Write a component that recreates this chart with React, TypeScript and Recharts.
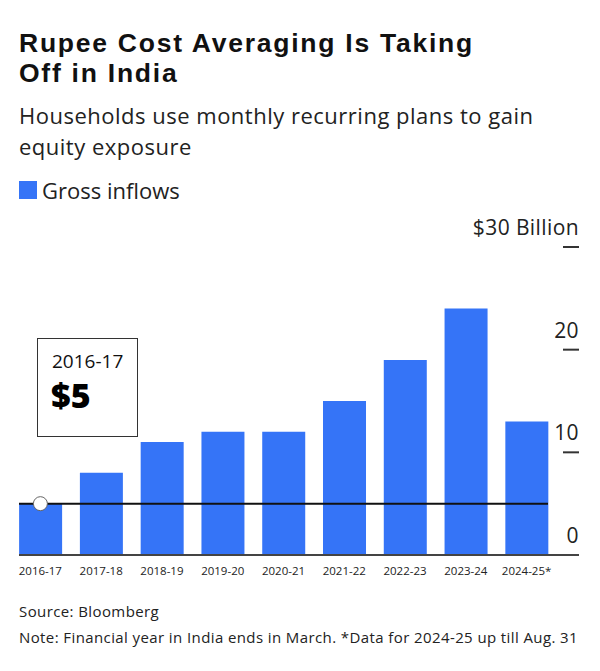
import { Bar, BarChart, XAxis, YAxis, ReferenceLine, ReferenceDot } from "recharts"

const years = ["2016-17", "2017-18", "2018-19", "2019-20", "2020-21", "2021-22", "2022-23", "2023-24", "2024-25*"]
const grossInflows = [5, 8, 11, 12, 12, 15, 19, 24, 13]
const yTicks = [0, 10, 20, 30]
const highlightYear = "2016-17"
const highlightValue = 5

const BLUE = "#3574f7"
const FONT = "'Open Sans', sans-serif"

const data = years.map((year, i) => ({ year, inflows: grossInflows[i] }))

function YTick(props: any) {
    const { x, y, payload } = props
    const label = payload.value === 30 ? "$30 Billion" : String(payload.value)
    const right = x + 22
    return (
        <g>
            {payload.value !== 0 && <line x1={right - 16} x2={right} y1={y} y2={y} stroke="#333" strokeWidth={2} />}
            <text x={right} y={y - 12} textAnchor="end" fontSize={21} letterSpacing={0.4} fill="#222" fontFamily={FONT}>
                {label}
            </text>
        </g>
    )
}

// reference line endpoints come in reversed with a right-hand axis, so sort them
const hLine = (padLeft: number, padRight: number, color: string) => (p: any) => {
    const lo = Math.min(p.x1, p.x2)
    const hi = Math.max(p.x1, p.x2)
    return <line x1={lo + padLeft} x2={hi + padRight} y1={p.y1} y2={p.y2} stroke={color} strokeWidth={2} />
}

export default function App() {
    return (
        <div style={{ position: "absolute", left: 0, top: 0, width: 600, height: 671, background: "#fff", fontFamily: FONT, color: "#111" }}>
            <div style={{ position: "absolute", left: 19, top: 29, fontFamily: "'Liberation Sans', Arial, sans-serif", fontSize: 26.5, fontWeight: 700, lineHeight: "29.7px", letterSpacing: 1.75 }}>
                <div style={{ height: 29.7 }}>Rupee Cost Averaging Is Taking</div>
                <div style={{ height: 29.7 }}>Off in India</div>
            </div>
            <div style={{ position: "absolute", left: 19, top: 100, fontSize: 22, lineHeight: "31px", color: "#222", letterSpacing: 0.5 }}>
                Households use monthly recurring plans to gain
                <br />
                equity exposure
            </div>
            <div style={{ position: "absolute", left: 19, top: 175, display: "flex", alignItems: "center", fontSize: 22, color: "#222" }}>
                <span style={{ display: "inline-block", width: 18, height: 18, background: BLUE, marginRight: 5 }} />
                Gross inflows
            </div>

            <div style={{ position: "absolute", left: 0, top: 210 }}>
                <BarChart width={600} height={380} data={data} margin={{ top: 37, right: 0, bottom: 0, left: 10 }} barCategoryGap="15%">
                    <XAxis
                        dataKey="year"
                        axisLine={false}
                        tickLine={false}
                        tickSize={0}
                        tickMargin={12}
                        height={35}
                        interval={0}
                        tick={{ fontSize: 11.5, fill: "#222", fontFamily: FONT }}
                    />
                    <YAxis
                        orientation="right"
                        domain={[0, 30]}
                        ticks={yTicks}
                        axisLine={false}
                        tickLine={false}
                        tickSize={0}
                        tickMargin={0}
                        width={43}
                        tick={<YTick />}
                    />
                    <Bar dataKey="inflows" fill={BLUE} isAnimationActive={false} />
                    <ReferenceLine y={0} shape={hLine(9, 22, "#444")} />
                    <ReferenceLine y={highlightValue} shape={hLine(9, -9, "#111")} />
                    <ReferenceDot x={highlightYear} y={highlightValue} r={7} fill="#fff" stroke="#666" strokeWidth={1} />
                </BarChart>
            </div>

            <div style={{ position: "absolute", left: 37, top: 338, width: 99, height: 97, border: "1.5px solid #333", background: "#fff" }}>
                <div style={{ position: "absolute", left: 14, top: 9, fontSize: 19, color: "#111" }}>{highlightYear}</div>
                <div style={{ position: "absolute", left: 13, top: 33, fontSize: 34, fontWeight: 800, color: "#000" }}>${highlightValue}</div>
            </div>

            <div style={{ position: "absolute", left: 19, top: 601, fontSize: 15, letterSpacing: 0.4, color: "#222" }}>Source: Bloomberg</div>
            <div style={{ position: "absolute", left: 19, top: 627, fontSize: 15, letterSpacing: 0.4, color: "#222" }}>
                Note: Financial year in India ends in March. *Data for 2024-25 up till Aug. 31
            </div>
        </div>
    )
}
